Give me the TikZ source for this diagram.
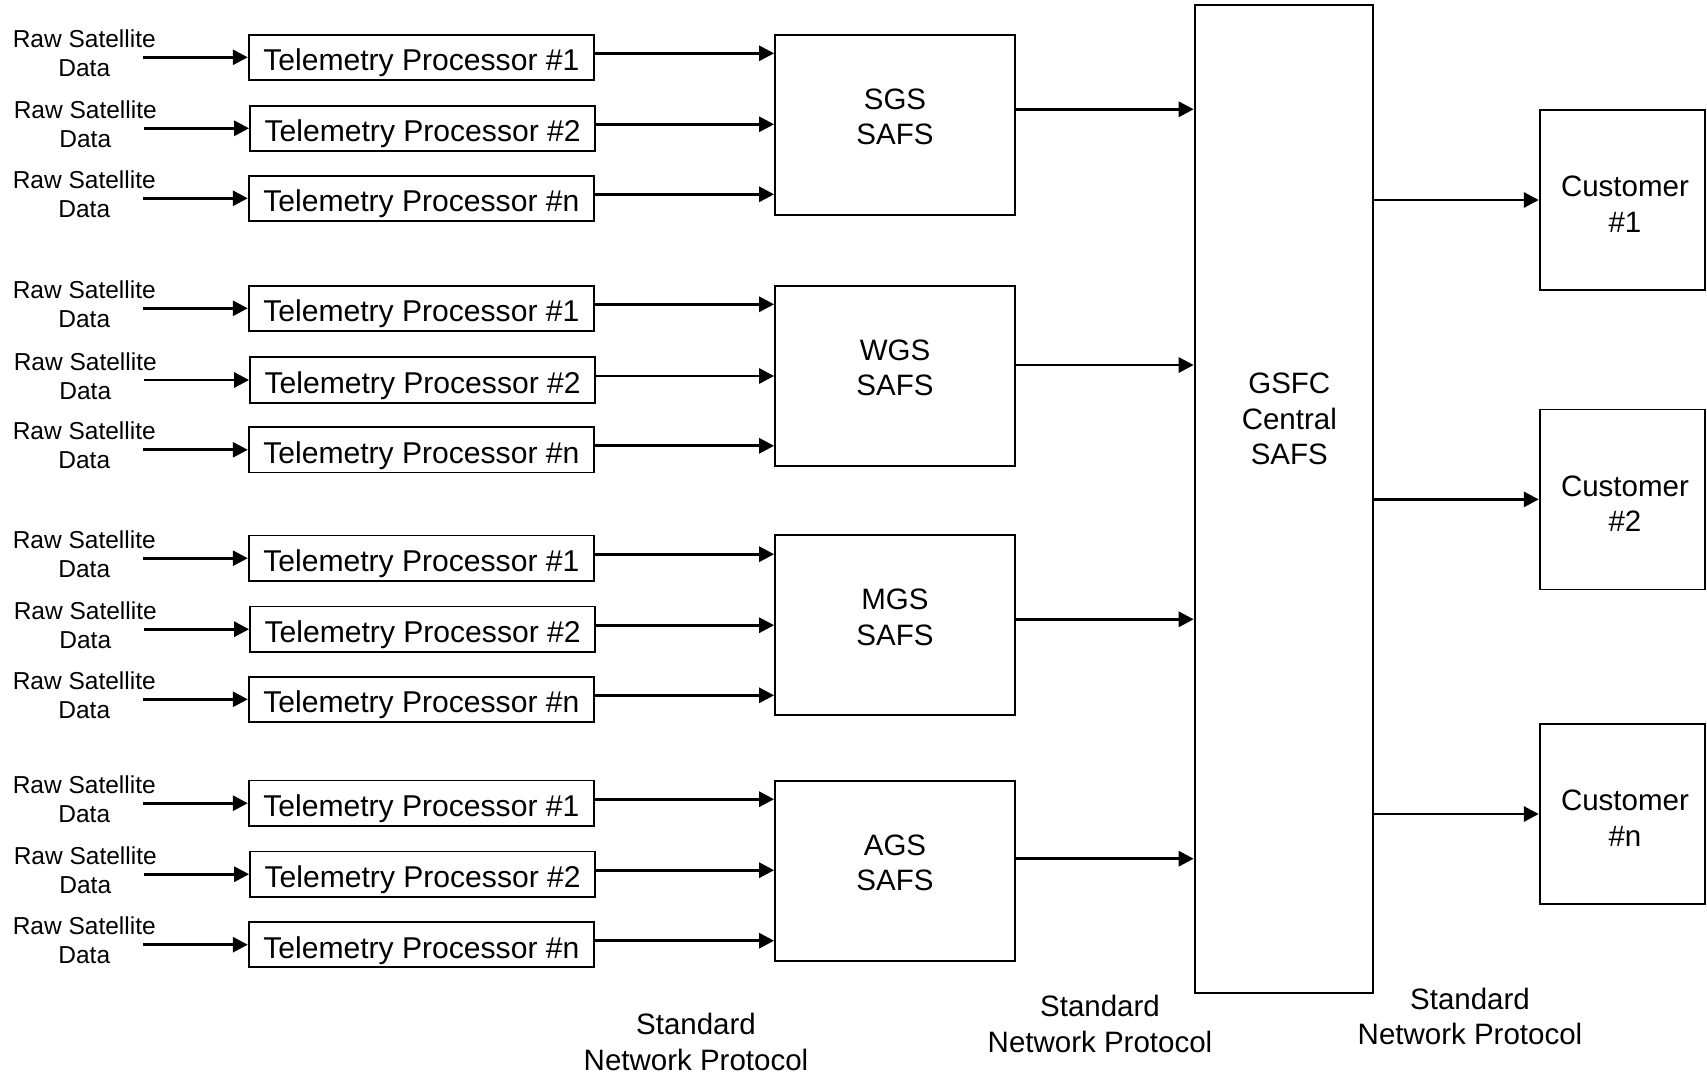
\documentclass[tikz,border=0pt]{standalone}
\usepackage{fontspec}
\setmainfont{Liberation Sans}
\usetikzlibrary{arrows.meta}
\begin{document}
\begin{tikzpicture}[x=0.5pt,y=-0.5pt,
  big/.style={font=\fontsize{14.75pt}{17.7pt}\selectfont},
  small/.style={font=\fontsize{12.25pt}{14.5pt}\selectfont},
  tp/.style={draw, line width=0.9pt, inner sep=0pt, minimum width=172.65pt, minimum height=22.65pt, font=\fontsize{15.05pt}{18pt}\selectfont, text height=14pt, text depth=0.44pt},
  safs/.style={draw, line width=0.9pt, inner sep=0pt, minimum width=120pt, minimum height=90pt},
  gsfc/.style={draw, line width=1pt, inner sep=0pt, minimum width=89pt, minimum height=494pt},
  cust/.style={draw, line width=0.9pt, inner sep=0pt, minimum width=82.65pt, minimum height=90pt},
  rawtxt/.style={small, align=center, inner sep=0pt},
  proto/.style={big, align=center, inner sep=0pt},
  arr/.style={line width=1.45pt, -{Triangle[length=7.5pt,width=7.5pt]}}]
\path[use as bounding box, fill=white] (0,0) rectangle (1707,1076);
% central node
\node[gsfc, label={[big,align=center,xshift=2.8pt,yshift=40pt]center:{GSFC\\Central\\SAFS}}] (g) at (1283.7,499) {};
% customers
\foreach \c/\cy/\ct in {1/200/1, 2/499.4/2, 3/814/n}{
  \node[cust, label={[big,align=center,xshift=1.3pt,yshift=-2pt]center:{Customer\\\#\ct}}] (c\c) at (1622.35,\cy) {};
  \draw[arr] (g.east |- c\c.west) -- (c\c.west);
}
% ground station groups
\foreach \g/\sy/\lab/\ta/\tb/\tc/\off in {1/124.7/SGS/57.3/128.3/198.3/7.7, 2/375.8/WGS/308.3/380/449.8/5.4, 3/625.3/MGS/558.2/629.2/699.3/3, 4/870.7/AGS/803.2/874.2/944.7/6}{
  \node[safs, label={[big,align=center,yshift=4pt]center:{\lab\\SAFS}}] (s\g) at (895,\sy) {};
  \node[tp] (ta\g) at (421.35,\ta) {Telemetry Processor \#1};
  \node[tp] (tb\g) at (422.65,\tb) {Telemetry Processor \#2};
  \node[tp] (tc\g) at (421.35,\tc) {Telemetry Processor \#n};
  \node[rawtxt] (ra\g) at (84.3,\ta-4.15) {Raw Satellite\\Data};
  \node[rawtxt] (rb\g) at (85.3,\tb-4.15) {Raw Satellite\\Data};
  \node[rawtxt] (rc\g) at (84.3,\tc-4.15) {Raw Satellite\\Data};
  \coordinate (ia\g) at (143.3,\ta);
  \coordinate (ib\g) at (144.3,\tb);
  \coordinate (ic\g) at (143.3,\tc);
  \draw[arr] (ia\g) -- (ta\g.west);
  \draw[arr] (ib\g) -- (tb\g.west);
  \draw[arr] (ic\g) -- (tc\g.west);
  \draw[arr] ([yshift=2pt]ta\g.east) -- ([yshift=2pt]ta\g.east -| s\g.west);
  \draw[arr] ([yshift=2pt]tb\g.east) -- ([yshift=2pt]tb\g.east -| s\g.west);
  \draw[arr] ([yshift=2pt]tc\g.east) -- ([yshift=2pt]tc\g.east -| s\g.west);
  \draw[arr] ([yshift=\off pt]s\g.east) -- ([yshift=\off pt]s\g.east -| g.west);
}
% protocol labels
\node[proto] (p1) at (696,1041.8) {Standard\\Network Protocol};
\node[proto] (p2) at (1100,1024) {Standard\\Network Protocol};
\node[proto] (p3) at (1470,1016.4) {Standard\\Network Protocol};
\end{tikzpicture}
\end{document}
